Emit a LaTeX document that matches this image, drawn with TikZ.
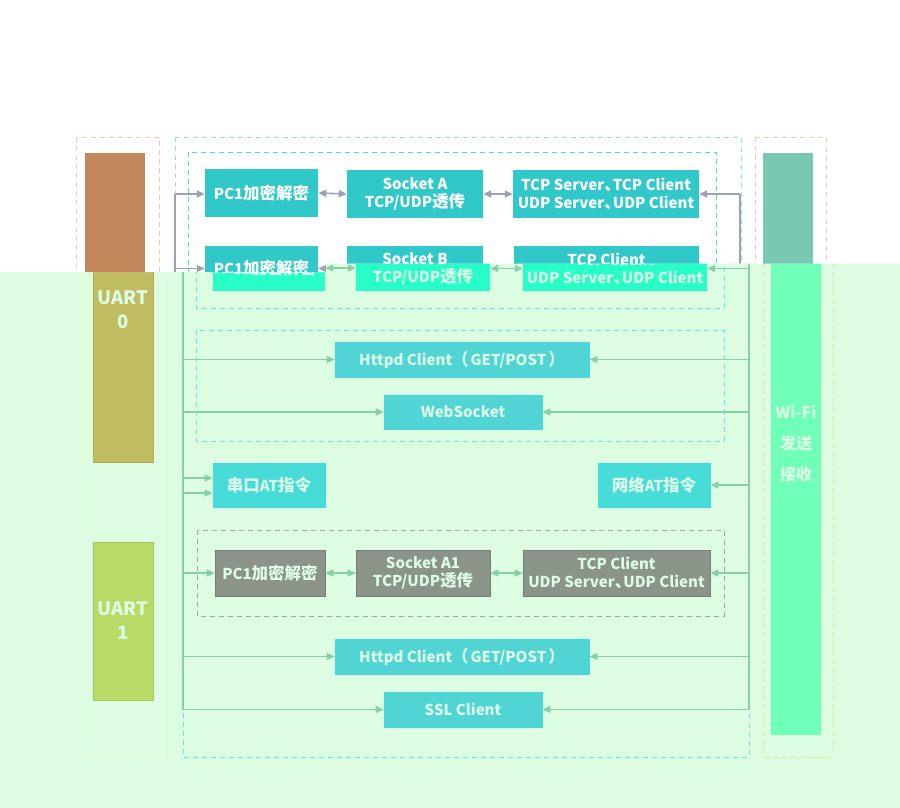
\documentclass[tikz,border=0pt]{standalone}
\usepackage{fontspec}
\setmainfont{Noto Sans CJK SC}
\usetikzlibrary{arrows.meta}
\definecolor{bglow}{HTML}{DCFDE2}
\definecolor{lnlow}{HTML}{88CFA8}
\definecolor{txlow}{HTML}{DCFCE6}
\definecolor{cyanlow}{HTML}{66E6E6}
\definecolor{ldashlow}{HTML}{ECF6BE}
\definecolor{rdashlow}{HTML}{D2EFA0}
\definecolor{graydashlow}{HTML}{A0A8A0}
\definecolor{uartA}{HTML}{C0BC60}
\definecolor{uartAb}{HTML}{B8AA48}
\definecolor{uartB}{HTML}{BADA68}
\definecolor{wifilow}{HTML}{70FFB8}
\definecolor{aqualow}{HTML}{28FFC8}
\definecolor{teallow}{HTML}{50D4D4}
\definecolor{teallowb}{HTML}{44D8E0}
\definecolor{tealAT}{HTML}{48DCD8}
\definecolor{graybox}{HTML}{8A9488}
\definecolor{tealtop}{HTML}{30C8C8}
\definecolor{orangetop}{HTML}{C4875C}
\definecolor{greentop}{HTML}{78C8B4}
\definecolor{graytop}{HTML}{9CA2B4}
\definecolor{cyantopA}{HTML}{86E4EA}
\definecolor{cyantopB}{HTML}{4CD8E0}
\definecolor{salmon}{HTML}{EEC8B4}
\definecolor{tan}{HTML}{DCD0B0}
\newcommand\bxnode[7]{\node[#6, minimum width={(#4-#2)*1pt}, minimum height={(#5-#3)*1pt}] (#1) at ({(#2+#4)/2},{(#3+#5)/2}) {#7};}
\newcommand\zh[1]{{\fontsize{16.5}{18}\selectfont #1}}
\newcommand\dun{\zh{\makebox[8.5pt][l]{、}}}
\begin{document}
\begin{tikzpicture}[x=1pt,y=-1pt,
  bx/.style={rectangle, inner sep=0pt, align=center, font=\bfseries\fontsize{15}{18}\selectfont},
  lowbox/.style={bx, text=txlow},
  topbox/.style={bx, fill=tealtop, text=white},
  dsh/.style={dash pattern=on 5pt off 4pt, line width=1pt},
  arr/.style={draw=lnlow, line width=1.3pt, -{Triangle[length=8pt,width=7pt]}},
  darr/.style={draw=lnlow, line width=1.3pt, {Triangle[length=8pt,width=7pt]}-{Triangle[length=8pt,width=7pt]}},
  garr/.style={draw=graytop, line width=1.6pt, -{Triangle[length=8pt,width=7pt]}},
  gdarr/.style={draw=graytop, line width=1.6pt, {Triangle[length=8pt,width=7pt]}-{Triangle[length=8pt,width=7pt]}},
  bartext/.style={inner sep=0pt, align=center, text=txlow, font=\bfseries\fontsize{18.5}{24}\selectfont}
]
\useasboundingbox (0,0) rectangle (900,808);
% ===== lower layer =====
\fill[bglow] (0,0) rectangle (900,808);
\draw[dsh, ldashlow] (83,137) rectangle (167,757);
\draw[dsh, rdashlow] (763,137) rectangle (833,757);
\draw[dsh, cyanlow] (183,137) rectangle (749,757);
\draw[dsh, cyanlow] (196,152) rectangle (724,308);
\draw[dsh, cyanlow] (196,330) rectangle (724,441);
\draw[dsh, graydashlow] (197,530) rectangle (724,616);
\bxnode{uart0}{93}{153}{153}{462}{rectangle, fill=uartA, draw=uartAb, line width=0.8pt}{}
\node[bartext] (u0t) at (123,310) {UART\\0};
\bxnode{uart1}{93}{542}{153}{700}{rectangle, fill=uartB, draw=uartB!90!black, line width=0.5pt}{}
\node[bartext] (u1t) at (123,621) {UART\\1};
\bxnode{wifi}{771}{153}{821}{735}{rectangle, fill=wifilow}{}
\node[bartext, font=\bfseries\fontsize{16}{31}\selectfont] (wt) at (796,444) {Wi-Fi\\发送\\接收};
% row 2
\bxnode{lp2}{213}{245}{325}{291}{lowbox, fill=aqualow}{PC1\zh{加密解密}}
\bxnode{ls2}{356}{246}{490}{291}{lowbox, fill=aqualow}{Socket B\\TCP/UDP\zh{透传}}
\bxnode{lt2}{523}{246}{707}{291}{lowbox, fill=aqualow}{TCP Client\\UDP Server\dun UDP Client}
\bxnode{h1}{335}{342}{589}{377}{lowbox, fill=teallow, draw=teallowb, line width=0.8pt}{Httpd Client\zh{（}\hspace{2pt}GET/POST\hspace{2pt}\zh{）}}
\bxnode{ws}{384}{395}{542}{429}{lowbox, fill=teallow, draw=teallowb, line width=0.8pt}{WebSocket}
\bxnode{sk}{213}{463}{325}{507}{lowbox, fill=tealAT, draw=teallowb, line width=0.8pt}{\zh{串口}AT\zh{指令}}
\bxnode{nw}{598}{463}{710}{507}{lowbox, fill=tealAT, draw=teallowb, line width=0.8pt}{\zh{网络}AT\zh{指令}}
\bxnode{gp}{215}{550}{325}{596}{lowbox, fill=graybox, draw=graybox!85!black, line width=0.6pt}{PC1\zh{加密解密}}
\bxnode{gs}{356}{550}{490}{596}{lowbox, fill=graybox, draw=graybox!85!black, line width=0.6pt}{Socket A1\\TCP/UDP\zh{透传}}
\bxnode{gt}{523}{550}{710}{596}{lowbox, fill=graybox, draw=graybox!85!black, line width=0.6pt}{TCP Client\\UDP Server\dun UDP Client}
\bxnode{h2}{335}{639}{589}{674}{lowbox, fill=teallow, draw=teallowb, line width=0.8pt}{Httpd Client\zh{（}\hspace{2pt}GET/POST\hspace{2pt}\zh{）}}
\bxnode{ssl}{384}{692}{542}{727}{lowbox, fill=teallow, draw=teallowb, line width=0.8pt}{SSL Client}
\coordinate (LT) at (183,195);
\coordinate (RT) at (749,194);
\coordinate (sk1) at ([yshift=7pt]sk.west);
\coordinate (sk2) at ([yshift=-8pt]sk.west);
\draw[arr] (LT) |- (ssl.west);
\draw[arr] (RT) |- (ssl.east);
\draw[arr] (LT |- lp2.west) -- (lp2.west);
\draw[arr] (LT |- h1.west) -- (h1.west);
\draw[arr] (LT |- ws.west) -- (ws.west);
\draw[arr] (LT |- sk1) -- (sk1);
\draw[arr] (LT |- sk2) -- (sk2);
\draw[arr] (LT |- gp.west) -- (gp.west);
\draw[arr] (LT |- h2.west) -- (h2.west);
\draw[arr] (RT |- lt2.east) -- (lt2.east);
\draw[arr] (RT |- h1.east) -- (h1.east);
\draw[arr] (RT |- ws.east) -- (ws.east);
\draw[arr] (RT |- nw.east) -- (nw.east);
\draw[arr] (RT |- gt.east) -- (gt.east);
\draw[arr] (RT |- h2.east) -- (h2.east);
\draw[darr] (lp2.east) -- (lp2.east -| ls2.west);
\draw[darr] (ls2.east) -- (lt2.west);
\draw[darr] (gp.east) -- (gs.west);
\draw[darr] (gs.east) -- (gt.west);
% ===== top layer =====
\begin{scope}
\clip (0,0) -- (900,0) -- (900,263.5) -- (326,263.5) -- (326,272) -- (0,272) -- cycle;
\fill[white] (0,0) rectangle (900,808);
\draw[dsh, salmon] (76,137) rectangle (159,757);
\draw[dsh, tan] (755,137) rectangle (826,757);
\draw[dsh, cyantopA] (175,137) rectangle (741,757);
\draw[dsh, cyantopB] (188,152) rectangle (716,308);
\bxnode{obar}{85}{153}{145}{462}{rectangle, fill=orangetop}{}
\bxnode{gbar}{763}{153}{813}{735}{rectangle, fill=greentop}{}
\bxnode{tp1}{205}{169}{318}{217}{topbox}{PC1\zh{加密解密}}
\bxnode{ts1}{347}{170}{483}{218}{topbox}{Socket A\\TCP/UDP\zh{透传}}
\bxnode{tt1}{513}{170}{699}{218}{topbox}{TCP Server\dun TCP Client\\UDP Server\dun UDP Client}
\bxnode{tp2}{205}{246}{318}{291}{topbox}{PC1\zh{加密解密}}
\bxnode{ts2}{347}{246}{483}{291}{topbox}{Socket B\\TCP/UDP\zh{透传}}
\bxnode{tt2}{514}{246}{699}{291}{topbox}{TCP Client\\UDP Server\dun UDP Client}
\coordinate (GLT) at (175,194);
\coordinate (GLB) at (175,400);
\coordinate (GRT) at (740,194);
\coordinate (GRB) at (740,400);
\draw[graytop, line width=1.6pt] (GLT) -- (GLB);
\draw[graytop, line width=1.6pt] (GRT) -- (GRB);
\draw[garr] (GLT) -- (GLT -| tp1.west);
\draw[garr] (GLT |- tp2.west) -- (tp2.west);
\draw[garr] (GRT |- tt1.east) -- (tt1.east);
\draw[garr] (GRT |- tt2.east) -- (tt2.east);
\draw[gdarr] (tp1.east) -- (ts1.west);
\draw[gdarr] (ts1.east) -- (tt1.west);
\draw[gdarr] (tp2.east) -- (ts2.west);
\draw[gdarr] (ts2.east) -- (tt2.west);
\end{scope}
\end{tikzpicture}
\end{document}
